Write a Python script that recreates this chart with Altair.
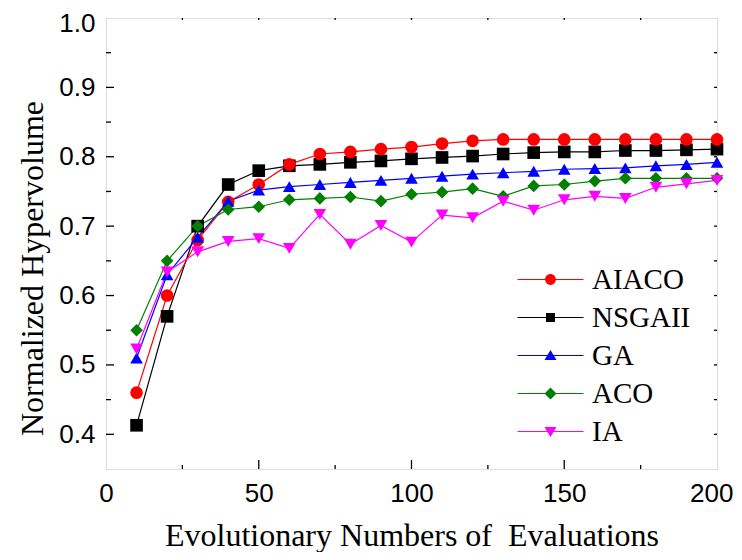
import altair as alt
import pandas as pd

# ---------------- data ----------------
evals = [10, 20, 30, 40, 50, 60, 70, 80, 90, 100,
         110, 120, 130, 140, 150, 160, 170, 180, 190, 200]

aiaco = [0.460, 0.600, 0.680, 0.735, 0.760, 0.789, 0.804, 0.807, 0.811, 0.814,
         0.819, 0.823, 0.825, 0.825, 0.825, 0.825, 0.825, 0.825, 0.825, 0.825]
nsgaii = [0.413, 0.570, 0.700, 0.760, 0.780, 0.787, 0.789, 0.792, 0.794, 0.797,
          0.799, 0.801, 0.804, 0.806, 0.807, 0.807, 0.809, 0.809, 0.810, 0.811]
ga = [0.510, 0.630, 0.684, 0.736, 0.752, 0.757, 0.760, 0.763, 0.766, 0.769,
      0.772, 0.775, 0.777, 0.779, 0.782, 0.783, 0.784, 0.787, 0.789, 0.792]
aco = [0.550, 0.650, 0.700, 0.724, 0.728, 0.738, 0.740, 0.742, 0.736, 0.746,
       0.749, 0.754, 0.743, 0.758, 0.760, 0.765, 0.769, 0.769, 0.769, 0.769]
ia = [0.523, 0.634, 0.663, 0.678, 0.682, 0.668, 0.717, 0.674, 0.701, 0.677,
      0.716, 0.712, 0.736, 0.723, 0.738, 0.743, 0.740, 0.756, 0.761, 0.766]

series_names = ["AIACO", "NSGAII", "GA", "ACO", "IA"]
series_colors = ["#FF0000", "#000000", "#0000FF", "#008000", "#FF00FF"]
series_shapes = ["circle", "square", "triangle-up", "diamond", "triangle-down"]
draw_order = ["NSGAII", "AIACO", "GA", "ACO", "IA"]

x_ticks_major = [50, 100, 150]
x_ticks_minor = [25, 75, 125, 175]
x_ticks_top = [25, 50, 75, 100, 125, 150, 175]
y_ticks_major = [0.4, 0.5, 0.6, 0.7, 0.8, 0.9]
y_ticks_minor = [0.45, 0.55, 0.65, 0.75, 0.85, 0.95]
x_label_values = [0, 50, 100, 150, 200]
y_label_values = [0.4, 0.5, 0.6, 0.7, 0.8, 0.9, 1.0]

# legend symbols: line segment + marker (custom SVG paths, units of sqrt(size)/2)
legend_paths = [
    "M -5.5 -0.1 L 5.5 -0.1 L 5.5 0.1 L -5.5 0.1 Z M 0.9 0 A 0.9 0.9 0 1 1 -0.9 0 A 0.9 0.9 0 1 1 0.9 0 Z",
    "M -5.5 -0.1 L 5.5 -0.1 L 5.5 0.1 L -5.5 0.1 Z M -0.75 -0.75 L 0.75 -0.75 L 0.75 0.75 L -0.75 0.75 Z",
    "M -5.5 -0.1 L 5.5 -0.1 L 5.5 0.1 L -5.5 0.1 Z M 0 -0.9 L 1 0.75 L -1 0.75 Z",
    "M -5.5 -0.1 L 5.5 -0.1 L 5.5 0.1 L -5.5 0.1 Z M 0 -1 L 1 0 L 0 1 L -1 0 Z",
    "M -5.5 -0.1 L 5.5 -0.1 L 5.5 0.1 L -5.5 0.1 Z M 0 0.9 L -1 -0.75 L 1 -0.75 Z",
]

# ---------------- tables ----------------
values = {"AIACO": aiaco, "NSGAII": nsgaii, "GA": ga, "ACO": aco, "IA": ia}
rows = []
for k, name in enumerate(draw_order):
    for e, v in zip(evals, values[name]):
        rows.append({"evals": e, "hv": v, "method": name, "order": k})
df = pd.DataFrame(rows)

W, H = 611, 451
xscale = alt.Scale(domain=[0, 200], nice=False, zero=False)
yscale = alt.Scale(domain=[0.35, 1.0], nice=False, zero=False)


def cscale():
    return alt.Scale(domain=series_names, range=series_colors)


lines = alt.Chart(df).mark_line(strokeWidth=1.2).encode(
    x=alt.X("evals:Q", scale=xscale,
            axis=alt.Axis(values=x_label_values, ticks=False, tickSize=0, domain=False, grid=False,
                          labelFont="Liberation Sans", labelFontSize=26, labelColor="black",
                          labelPadding=11, labelFlush=False,
                          labelAlign={"condition": {"test": "datum.value == 200", "value": "right"},
                                      "value": "center"},
                          labelOffset={"condition": {"test": "datum.value == 200", "value": 16},
                                       "value": 0},
                          title="Evolutionary Numbers of \u00a0Evaluations",
                          titleFont="Liberation Serif", titleFontSize=32,
                          titleFontWeight="normal", titleColor="black",
                          titleBaseline="alphabetic", titleY=76)),
    y=alt.Y("hv:Q", scale=yscale,
            axis=alt.Axis(values=y_label_values, ticks=False, tickSize=0, domain=False, grid=False,
                          format=".1f",
                          labelFont="Liberation Sans", labelFontSize=26, labelColor="black",
                          labelPadding=11, labelFlush=False,
                          labelOffset={"condition": {"test": "datum.value == 1", "value": 5},
                                       "value": 0},
                          title="Normalized Hypervolume",
                          titleFont="Liberation Serif", titleFontSize=32,
                          titleFontWeight="normal", titleColor="black",
                          titleBaseline="alphabetic", titleX=-64, titleY=250)),
    color=alt.Color("method:N", scale=cscale(), legend=None),
    detail="method:N",
    order="evals:Q",
)

points = alt.Chart(df).mark_point(filled=True, opacity=1, size=160).encode(
    x=alt.X("evals:Q", scale=xscale),
    y=alt.Y("hv:Q", scale=yscale),
    color=alt.Color("method:N", scale=cscale(), legend=None),
    shape=alt.Shape("method:N", scale=alt.Scale(domain=series_names, range=series_shapes), legend=None),
    order="order:Q",
)

legend_props = dict(title=None, orient="none", legendX=430, legendY=247,
                    labelFont="Liberation Serif", labelFontSize=29,
                    labelColor="black", labelOffset=27, rowPadding=8,
                    symbolSize=144, symbolStrokeWidth=0, padding=0,
                    labelExpr="datum.label == 'GA' ? '\u00a0GA' : datum.label")

legend_layer = alt.Chart(df).mark_point(filled=True, opacity=1, size=144).encode(
    x=alt.X("evals:Q", scale=xscale),
    y=alt.Y("hv:Q", scale=yscale),
    color=alt.Color("method:N", scale=cscale(), legend=alt.Legend(**legend_props)),
    shape=alt.Shape("method:N", scale=alt.Scale(domain=series_names, range=legend_paths),
                    legend=alt.Legend(**legend_props)),
).transform_filter("false")


# inward tick marks (same field names as the data so the axes merge)
def yticks(vals, x0, x1):
    return alt.Chart(pd.DataFrame({"hv": vals})).mark_rule(color="black", strokeWidth=1.3).encode(
        y=alt.Y("hv:Q", scale=yscale), x=alt.value(x0), x2=alt.value(x1))


def xticks(vals, y0, y1):
    return alt.Chart(pd.DataFrame({"evals": vals})).mark_rule(color="black", strokeWidth=1.3).encode(
        x=alt.X("evals:Q", scale=xscale), y=alt.value(y0), y2=alt.value(y1))


ticks = [
    yticks(y_ticks_major, 0, 8), yticks(y_ticks_minor, 0, 5),
    yticks(y_ticks_major + y_ticks_minor, W - 3, W),
    xticks(x_ticks_major, H - 9, H), xticks(x_ticks_minor, H - 4, H),
    xticks(x_ticks_top, 0, 2),
]

chart = alt.layer(lines, points, legend_layer, *ticks).resolve_scale(
    shape="independent", color="independent"
).properties(
    width=W, height=H,
    autosize=alt.AutoSizeParams(type="none"),
    padding={"left": 98, "top": 10, "right": 17, "bottom": 83},
).configure_view(
    stroke="black", strokeWidth=1.8
).configure(background="white")

chart.save("out.html", embed_options={"renderer": "svg", "actions": False})
